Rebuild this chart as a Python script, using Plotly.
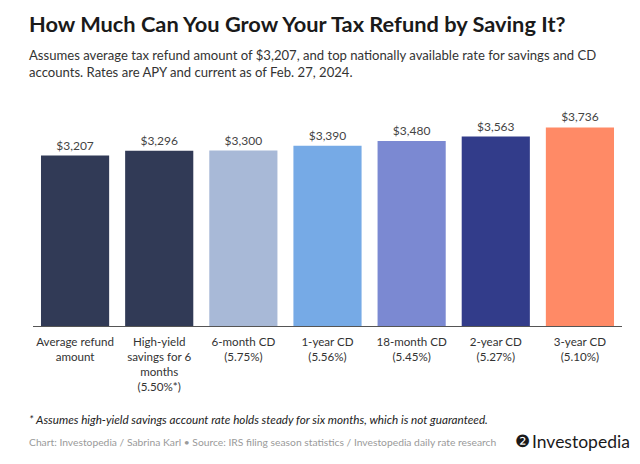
import plotly.graph_objects as go

categories = ["Average refund<br>amount", "High-yield<br>savings for 6<br>months<br>(5.50%*)",
              "6-month CD<br>(5.75%)", "1-year CD<br>(5.56%)", "18-month CD<br>(5.45%)",
              "2-year CD<br>(5.27%)", "3-year CD<br>(5.10%)"]
values = [3207, 3296, 3300, 3390, 3480, 3563, 3736]
colors = ["#313a56", "#313a56", "#a8b9d7", "#76aae6", "#7b89d2", "#323c8a", "#ff8a66"]

FONT = "Lato"
fig = go.Figure(go.Bar(
    x=list(range(len(values))), y=values, marker=dict(color=colors, line=dict(width=0)),
    text=[f"${v:,}" for v in values], textposition="outside",
    textfont=dict(family=FONT, size=12, color="#444444"), cliponaxis=False,
    width=0.81,
))
fig.update_layout(
    width=640, height=464, margin=dict(l=0, r=0, t=0, b=0),
    paper_bgcolor="white", plot_bgcolor="white", showlegend=False,
    font=dict(family=FONT, color="#333333"),
    xaxis=dict(domain=[33/640, 622/640], range=[-0.5, 6.5], tickmode="array",
               tickvals=list(range(len(values))), ticktext=categories,
               showline=True, linecolor="#555555", linewidth=1, ticks="",
               tickfont=dict(family=FONT, size=11.6, color="#333333"), showgrid=False,
               zeroline=False, ticklabelstandoff=5),
    yaxis=dict(domain=[(464-326)/464, (464-120)/464], range=[0, 3875], visible=False),
)
ann = [
    dict(text="<b>How Much Can You Grow Your Tax Refund by Saving It?</b>", x=27/640, y=1-8/464,
         xanchor="left", yanchor="top", font=dict(size=21.8, color="#1a1a1a", family=FONT)),
    dict(text="Assumes average tax refund amount of $3,207, and top nationally available rate for savings and CD<br>accounts. Rates are APY and current as of Feb. 27, 2024.",
         x=27/640, y=1-45/464, xanchor="left", yanchor="top", align="left",
         font=dict(size=13.1, color="#333333", family=FONT)),
    dict(text="<i>* Assumes high-yield savings account rate holds steady for six months, which is not guaranteed.</i>",
         x=27/640, y=1-419/464, xanchor="left", yanchor="middle",
         font=dict(size=11.7, color="#222222", family=FONT)),
    dict(text="Chart: Investopedia / Sabrina Karl • Source: IRS filing season statistics / Investopedia daily rate research",
         x=27/640, y=1-442/464, xanchor="left", yanchor="middle",
         font=dict(size=10.3, color="#9a9a9a", family=FONT)),
    dict(text="❷", x=522/640, y=1-441/464, xanchor="center", yanchor="middle",
         font=dict(size=17, color="#1a1a1a", family="DejaVu Sans")),
    dict(text="Investopedia", x=530/640, y=1-441/464, xanchor="left", yanchor="middle",
         font=dict(size=17.5, color="#1a1a1a", family=FONT)),
]
for a in ann:
    a.update(xref="paper", yref="paper", showarrow=False)
fig.update_layout(annotations=ann)
fig.write_html("out.html")
